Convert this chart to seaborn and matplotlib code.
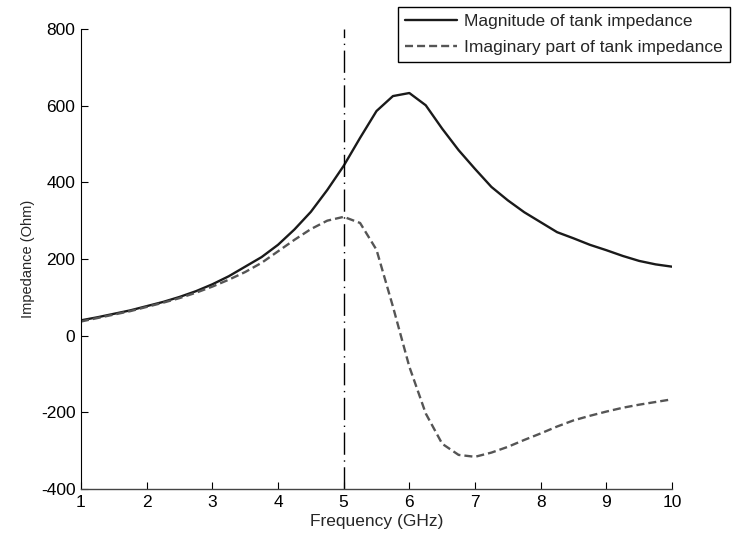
import matplotlib
matplotlib.use("Agg")
import matplotlib.pyplot as plt
import seaborn as sns
import numpy as np

freq = [1.00, 1.25, 1.50, 1.75, 2.00, 2.25, 2.50, 2.75, 3.00, 3.25, 3.50, 3.75,
        4.00, 4.25, 4.50, 4.75, 5.00, 5.25, 5.50, 5.75, 6.00, 6.25, 6.50, 6.75,
        7.00, 7.25, 7.50, 7.75, 8.00, 8.25, 8.50, 8.75, 9.00, 9.25, 9.50, 9.75, 10.00]
magnitude = [40, 48, 57, 66, 77, 88, 101, 116, 134, 155, 180, 205,
             237, 277, 323, 380, 443, 516, 586, 625, 633, 601, 540, 484,
             435, 388, 353, 322, 296, 270, 254, 237, 223, 208, 195, 186, 180]
imaginary = [37, 46, 55, 64, 75, 86, 98, 112, 128, 146, 166, 190,
             220, 250, 278, 300, 310, 294, 224, 76, -81, -203, -282, -311,
             -316, -305, -290, -272, -255, -237, -221, -209, -198, -188, -180, -173, -166]
marker_freq = 5.0
x_ticks = [1, 2, 3, 4, 5, 6, 7, 8, 9, 10]
y_ticks = [-400, -200, 0, 200, 400, 600, 800]
labels = ["Magnitude of tank impedance", "Imaginary part of tank impedance"]

sns.set_style("ticks")
plt.rcParams['font.family'] = ['Liberation Sans', 'DejaVu Sans']
plt.rcParams['axes.unicode_minus'] = False

fig = plt.figure(figsize=(7.33, 5.41), dpi=100)
ax = fig.add_axes([0.1105, 0.0961, 0.8063, 0.8503])

sns.lineplot(x=freq, y=magnitude, ax=ax, color="#1a1a1a", linewidth=1.7,
             label=labels[0])
sns.lineplot(x=freq, y=imaginary, ax=ax, color="#555555", linewidth=1.7,
             label=labels[1], dashes=False)
ax.lines[1].set_dashes((3.4, 1.7))

ax.axvline(marker_freq, color="black", linewidth=1.0, dashes=(16, 4, 1, 4))

ax.set_xlim(1, 10)
ax.set_ylim(-400, 800)
ax.set_xticks(x_ticks)
ax.set_yticks(y_ticks)
ax.tick_params(direction="in", length=5, width=0.8, labelsize=12.5, pad=4,
               colors="black")
ax.set_xlabel("Frequency (GHz)", fontsize=12.5, labelpad=3)
ax.set_ylabel("Impedance (Ohm)", fontsize=10.5, labelpad=4)
sns.despine(ax=ax)
ax.spines["left"].set_color("black")
ax.spines["left"].set_linewidth(0.8)
ax.spines["bottom"].set_color("#444444")
ax.spines["bottom"].set_linewidth(1.0)

leg = ax.legend(loc="upper left", bbox_to_anchor=(398 / 733, 1 - 7 / 541),
                bbox_transform=fig.transFigure, fontsize=12.5, frameon=True,
                fancybox=False, framealpha=1, edgecolor="black",
                handlelength=3.0, handletextpad=0.38, borderpad=0.42,
                labelspacing=0.6, borderaxespad=0)
leg.get_frame().set_linewidth(1.0)

fig.savefig("out.png", dpi=100)
